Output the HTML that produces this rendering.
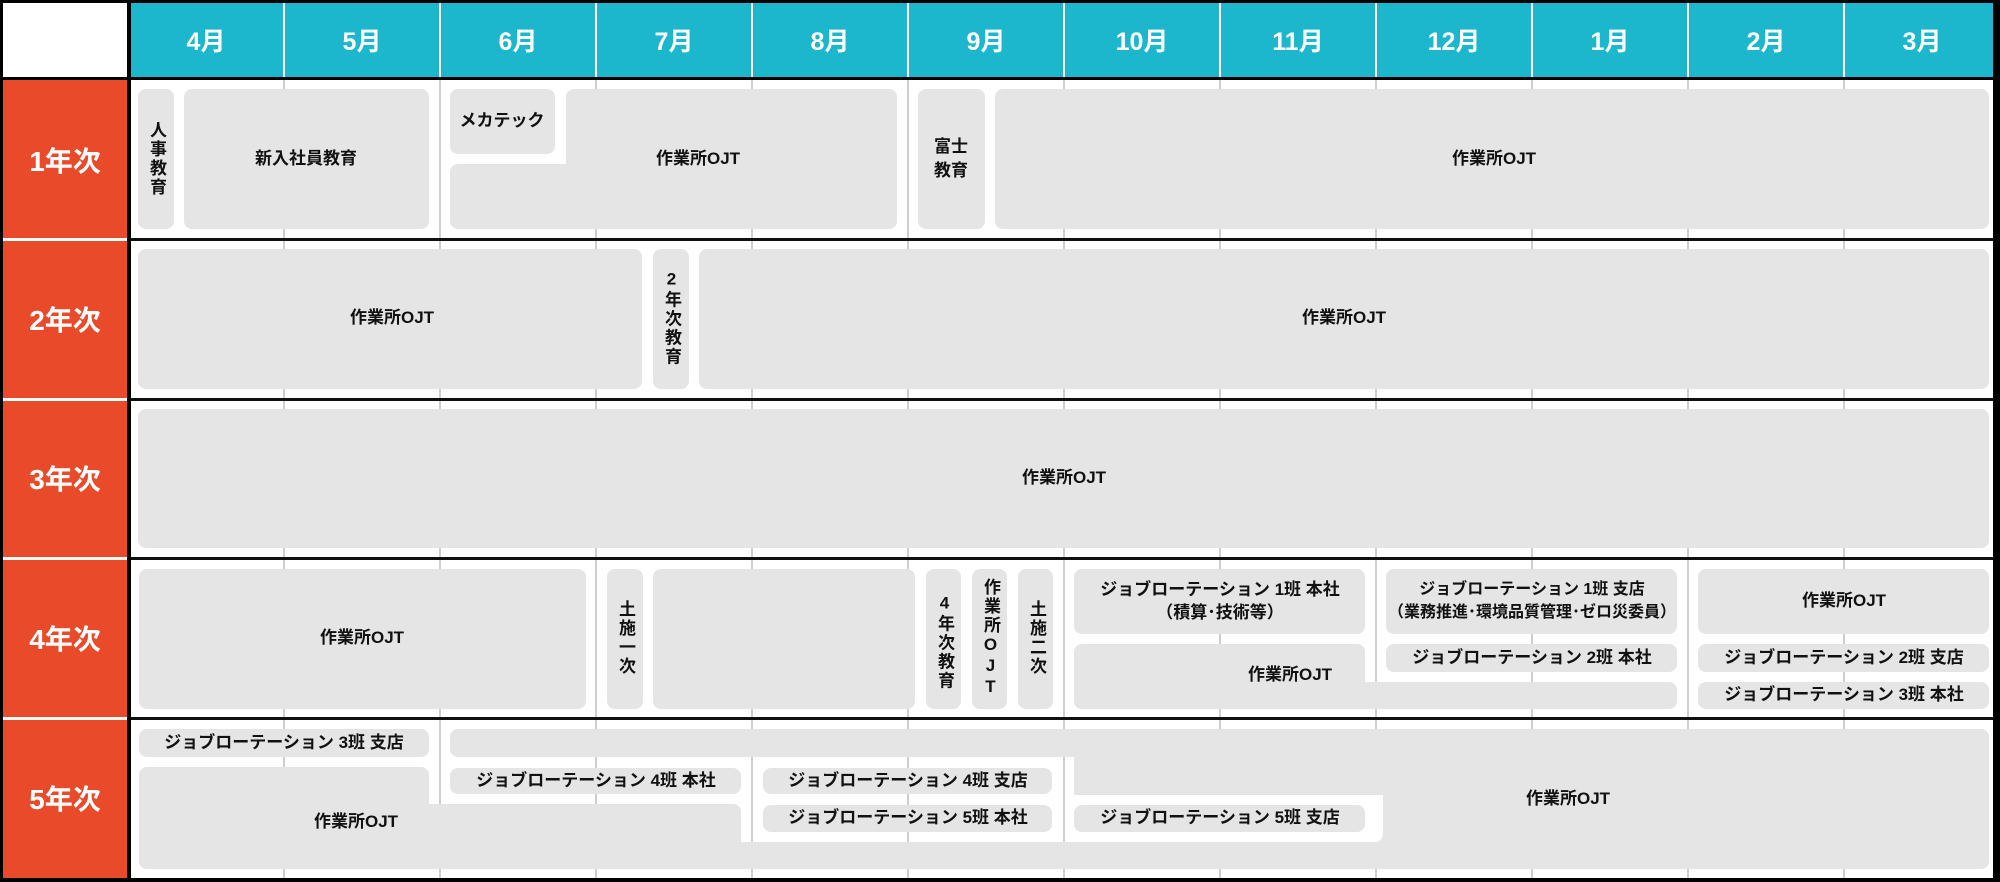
<!DOCTYPE html>
<html><head><meta charset="utf-8"><style>
*{margin:0;padding:0;box-sizing:border-box}
body{width:2000px;height:882px;background:#000;position:relative;overflow:hidden;font-family:"Liberation Sans","Noto Sans CJK JP",sans-serif}
div{position:absolute}
.g{background:#e5e5e5;border-radius:8px}
.t{font-weight:bold;font-size:17px;color:#111;white-space:nowrap;transform:translate(-50%,-50%);text-align:center;line-height:22px}
.v{writing-mode:vertical-rl;text-orientation:upright;letter-spacing:2px;line-height:20px}
.m{color:#fff;font-weight:bold;font-size:25px;top:40px;transform:translate(-50%,-50%)}
.y{color:#fff;font-weight:bold;font-size:28px;left:65px;transform:translate(-50%,-50%)}
.vl{background:#cfcfcf;width:2px;top:80px;height:798px}
.hv{background:#fff;width:2px;top:3px;height:74px}
.hl{background:#111;height:3px;left:131px;width:1862px}
.wl{background:#fff;height:3px;left:3px;width:124px}
</style></head><body>
<div style="left:3px;top:3px;width:124px;height:74px;background:#fff"></div>
<div style="left:131px;top:3px;width:1862px;height:74px;background:#1db7cd"></div>
<div style="left:3px;top:80px;width:124px;height:798px;background:#e84a2a"></div>
<div style="left:131px;top:80px;width:1862px;height:798px;background:#fff"></div>

<div class="hv" style="left:283px"></div><div class="hv" style="left:439px"></div><div class="hv" style="left:595px"></div><div class="hv" style="left:751px"></div><div class="hv" style="left:907px"></div><div class="hv" style="left:1063px"></div><div class="hv" style="left:1219px"></div><div class="hv" style="left:1375px"></div><div class="hv" style="left:1531px"></div><div class="hv" style="left:1687px"></div><div class="hv" style="left:1843px"></div>
<div class="vl" style="left:283px"></div><div class="vl" style="left:439px"></div><div class="vl" style="left:595px"></div><div class="vl" style="left:751px"></div><div class="vl" style="left:907px"></div><div class="vl" style="left:1063px"></div><div class="vl" style="left:1219px"></div><div class="vl" style="left:1375px"></div><div class="vl" style="left:1531px"></div><div class="vl" style="left:1687px"></div><div class="vl" style="left:1843px"></div>
<div class="hl" style="top:238px"></div><div class="hl" style="top:398px"></div><div class="hl" style="top:557px"></div><div class="hl" style="top:717px"></div>
<div class="wl" style="top:238px"></div><div class="wl" style="top:398px"></div><div class="wl" style="top:557px"></div><div class="wl" style="top:717px"></div>

<div class="m" style="left:206px">4月</div><div class="m" style="left:362px">5月</div><div class="m" style="left:518px">6月</div><div class="m" style="left:674px">7月</div><div class="m" style="left:830px">8月</div><div class="m" style="left:986px">9月</div><div class="m" style="left:1142px">10月</div><div class="m" style="left:1298px">11月</div><div class="m" style="left:1454px">12月</div><div class="m" style="left:1610px">1月</div><div class="m" style="left:1766px">2月</div><div class="m" style="left:1922px">3月</div>
<div class="y" style="top:160px">1年次</div><div class="y" style="top:319px">2年次</div><div class="y" style="top:478px">3年次</div><div class="y" style="top:638px">4年次</div><div class="y" style="top:798px">5年次</div>

<!-- row1 -->
<div class="g" style="left:138px;top:89px;width:36px;height:140px"></div>
<div class="t v" style="left:156px;top:159px">人事教育</div>
<div class="g" style="left:184px;top:89px;width:245px;height:140px"></div>
<div class="t" style="left:306px;top:159px">新入社員教育</div>
<div class="g" style="left:450px;top:89px;width:105px;height:65px"></div>
<div class="t" style="left:502px;top:121px">メカテック</div>
<div class="g" style="left:566px;top:89px;width:331px;height:140px"></div>
<div class="g" style="left:450px;top:164px;width:447px;height:65px"></div>
<div style="left:553px;top:154px;width:13px;height:10px;background:#fff;border-radius:0 0 6px 0"></div>
<div class="t" style="left:698px;top:159px">作業所OJT</div>
<div class="g" style="left:918px;top:89px;width:67px;height:140px"></div>
<div class="t" style="left:951px;top:159px;line-height:24px">富士<br>教育</div>
<div class="g" style="left:995px;top:89px;width:994px;height:140px"></div>
<div class="t" style="left:1494px;top:159px">作業所OJT</div>
<!-- row2 -->
<div class="g" style="left:138px;top:249px;width:504px;height:140px"></div>
<div class="t" style="left:392px;top:318px">作業所OJT</div>
<div class="g" style="left:653px;top:249px;width:36px;height:140px"></div>
<div class="t v" style="left:671px;top:318px">2年次教育</div>
<div class="g" style="left:699px;top:249px;width:1290px;height:140px"></div>
<div class="t" style="left:1344px;top:318px">作業所OJT</div>
<!-- row3 -->
<div class="g" style="left:138px;top:409px;width:1851px;height:139px"></div>
<div class="t" style="left:1064px;top:478px">作業所OJT</div>
<!-- row4 -->
<div class="g" style="left:139px;top:569px;width:447px;height:140px"></div>
<div class="t" style="left:362px;top:638px">作業所OJT</div>
<div class="g" style="left:607px;top:569px;width:36px;height:140px"></div>
<div class="t v" style="left:625px;top:638px">土施一次</div>
<div class="g" style="left:653px;top:569px;width:262px;height:140px"></div>
<div class="g" style="left:926px;top:569px;width:35px;height:140px"></div>
<div class="t v" style="left:944px;top:642px">4年次教育</div>
<div class="g" style="left:972px;top:569px;width:35px;height:140px"></div>
<div class="t v" style="left:990px;top:638px">作業所OJT</div>
<div class="g" style="left:1018px;top:569px;width:35px;height:140px"></div>
<div class="t v" style="left:1036px;top:638px">土施二次</div>
<div class="g" style="left:1074px;top:569px;width:291px;height:65px"></div>
<div class="t" style="left:1220px;top:601px;line-height:23px">ジョブローテーション 1班 本社<br>（積算･技術等）</div>
<div class="g" style="left:1074px;top:644px;width:291px;height:65px"></div>
<div class="g" style="left:1074px;top:682px;width:603px;height:27px"></div>
<div class="t" style="left:1290px;top:675px">作業所OJT</div>
<div class="g" style="left:1386px;top:569px;width:291px;height:65px"></div>
<div class="t" style="left:1532px;top:601px;line-height:23px;font-size:16px">ジョブローテーション 1班 支店<br>（業務推進･環境品質管理･ゼロ災委員）</div>
<div class="g" style="left:1386px;top:644px;width:291px;height:28px"></div>
<div class="t" style="left:1532px;top:658px">ジョブローテーション 2班 本社</div>
<div class="g" style="left:1698px;top:569px;width:291px;height:65px"></div>
<div class="t" style="left:1844px;top:601px">作業所OJT</div>
<div class="g" style="left:1698px;top:644px;width:291px;height:28px"></div>
<div class="t" style="left:1844px;top:658px">ジョブローテーション 2班 支店</div>
<div class="g" style="left:1698px;top:682px;width:291px;height:27px"></div>
<div class="t" style="left:1844px;top:695px">ジョブローテーション 3班 本社</div>
<!-- row5 -->
<div class="g" style="left:139px;top:729px;width:290px;height:28px"></div>
<div class="t" style="left:284px;top:743px">ジョブローテーション 3班 支店</div>
<div class="g" style="left:450px;top:729px;width:1539px;height:28px"></div>
<div class="g" style="left:1074px;top:729px;width:915px;height:140px"></div>
<div class="g" style="left:139px;top:767px;width:290px;height:102px"></div>
<div class="g" style="left:139px;top:804px;width:602px;height:65px"></div>
<div class="g" style="left:139px;top:842px;width:1850px;height:27px"></div>
<div style="left:1074px;top:795px;width:309px;height:47px;background:#fff;border-radius:0 0 8px 0"></div>
<div class="g" style="left:450px;top:768px;width:291px;height:26px"></div>
<div class="t" style="left:596px;top:781px">ジョブローテーション 4班 本社</div>
<div class="g" style="left:763px;top:768px;width:289px;height:26px"></div>
<div class="t" style="left:908px;top:781px">ジョブローテーション 4班 支店</div>
<div class="g" style="left:763px;top:805px;width:289px;height:27px"></div>
<div class="t" style="left:908px;top:818px">ジョブローテーション 5班 本社</div>
<div class="g" style="left:1074px;top:805px;width:291px;height:27px"></div>
<div class="t" style="left:1220px;top:818px">ジョブローテーション 5班 支店</div>
<div class="t" style="left:356px;top:822px">作業所OJT</div>
<div class="t" style="left:1568px;top:799px">作業所OJT</div>
</body></html>
